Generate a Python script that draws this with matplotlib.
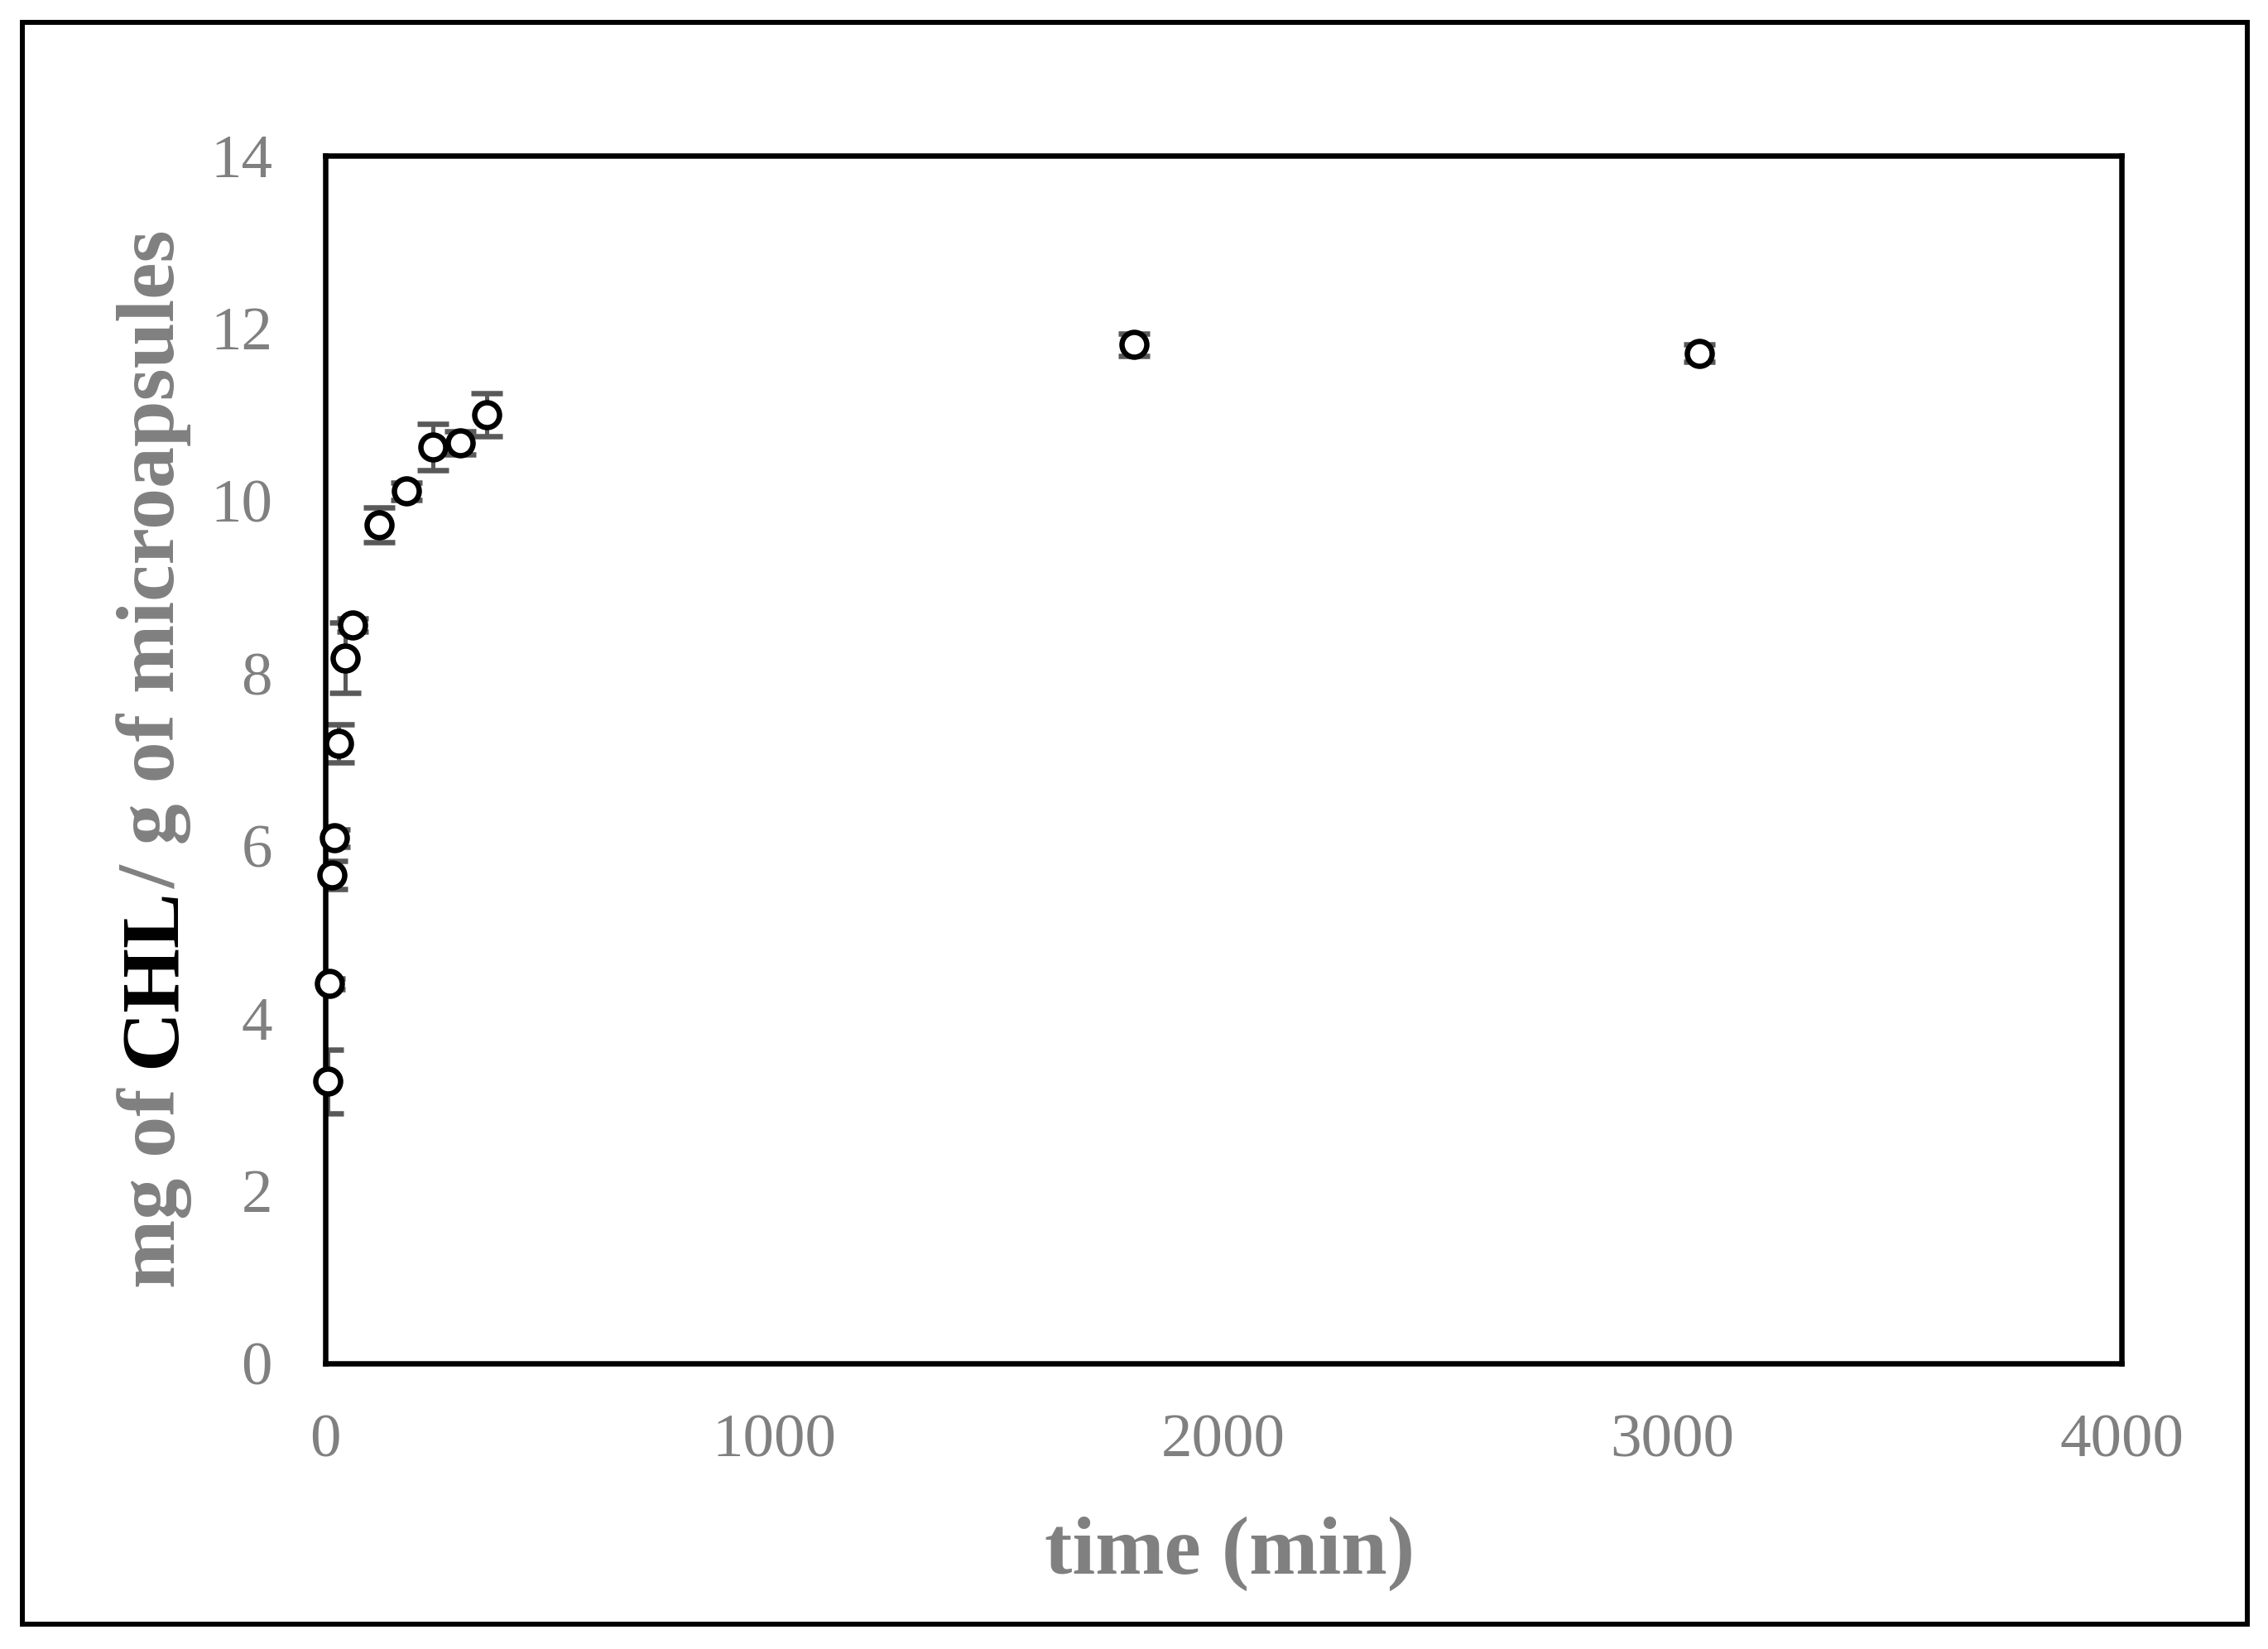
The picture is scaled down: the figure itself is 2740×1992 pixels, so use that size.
import matplotlib
matplotlib.use('Agg')
from matplotlib import pyplot as plt
from matplotlib.patches import Rectangle

plt.rcParams['font.family'] = ['Liberation Serif', 'DejaVu Serif']

# release data
time_min = [5, 10, 15, 20, 30, 45, 60, 120, 180, 240, 300, 360, 1800, 3060]
chl_mg_g = [3.27, 4.40, 5.66, 6.09, 7.19, 8.18, 8.56, 9.72, 10.11, 10.62, 10.67, 11.00, 11.81, 11.71]
chl_err = [0.37, 0.06, 0.16, 0.10, 0.22, 0.41, 0.08, 0.20, 0.10, 0.27, 0.13, 0.25, 0.13, 0.10]

xticks = [0, 1000, 2000, 3000, 4000]
yticks = [0, 2, 4, 6, 8, 10, 12, 14]

W, H = 2740, 1992
dpi = 200
fig = plt.figure(figsize=(W / dpi, H / dpi), dpi=dpi)
ax = fig.add_axes([393 / W, 1 - 1647 / H, 2170 / W, 1459 / H])

gray = '#808080'
px = 72 / dpi  # one pixel in points

cont = ax.errorbar(time_min, chl_mg_g, yerr=chl_err, fmt='o', ms=10.8, mfc='white', mec='black',
                   mew=6.5 * px, ecolor='#595959', elinewidth=5 * px, capsize=19 * px, capthick=5 * px)
cont[0].set_clip_on(False)
cont[0].set_zorder(5)

ax.set_xlim(0, 4000)
ax.set_ylim(0, 14)
ax.set_xticks(xticks)
ax.set_yticks(yticks)
ax.tick_params(axis='both', length=0, labelsize=27, labelcolor=gray)
ax.tick_params(axis='x', pad=22)
ax.tick_params(axis='y', pad=23)
for s in ax.spines.values():
    s.set_linewidth(6.5 * px)
    s.set_color('black')

# outer frame
fig.patches.append(Rectangle((27 / W, 1 - 1962 / H), (2715 - 27) / W, (1962 - 27) / H,
                             transform=fig.transFigure, fill=False, lw=6 * px, ec='black'))

# x label
fig.text(1486 / W, 1 - 1877 / H, 'time (min)', ha='center', va='center',
         fontsize=36, fontweight='bold', color=gray)

# y label with CHL in black
fig.canvas.draw()
r = fig.canvas.get_renderer()


def text_len(s):
    t = fig.text(0, 0, s, fontsize=36, fontweight='bold')
    w = t.get_window_extent(renderer=r).width
    t.remove()
    return w


full = 'mg of CHL/ g of microapsules'
total = text_len(full)
off1 = text_len('mg of CHL') - text_len('CHL')
off2 = total - text_len('/ g of microapsules')
y0 = (H - 917) - total / 2
xc = 187
pieces = [('mg of', 0, gray), ('CHL', off1, 'black'), ('/ g of microapsules', off2, gray)]
for s, off, c in pieces:
    fig.text(xc / W, (y0 + off) / H, s, rotation=90, rotation_mode='anchor',
             ha='left', va='center', fontsize=36, fontweight='bold', color=c)

fig.savefig('out.png', dpi=dpi)
